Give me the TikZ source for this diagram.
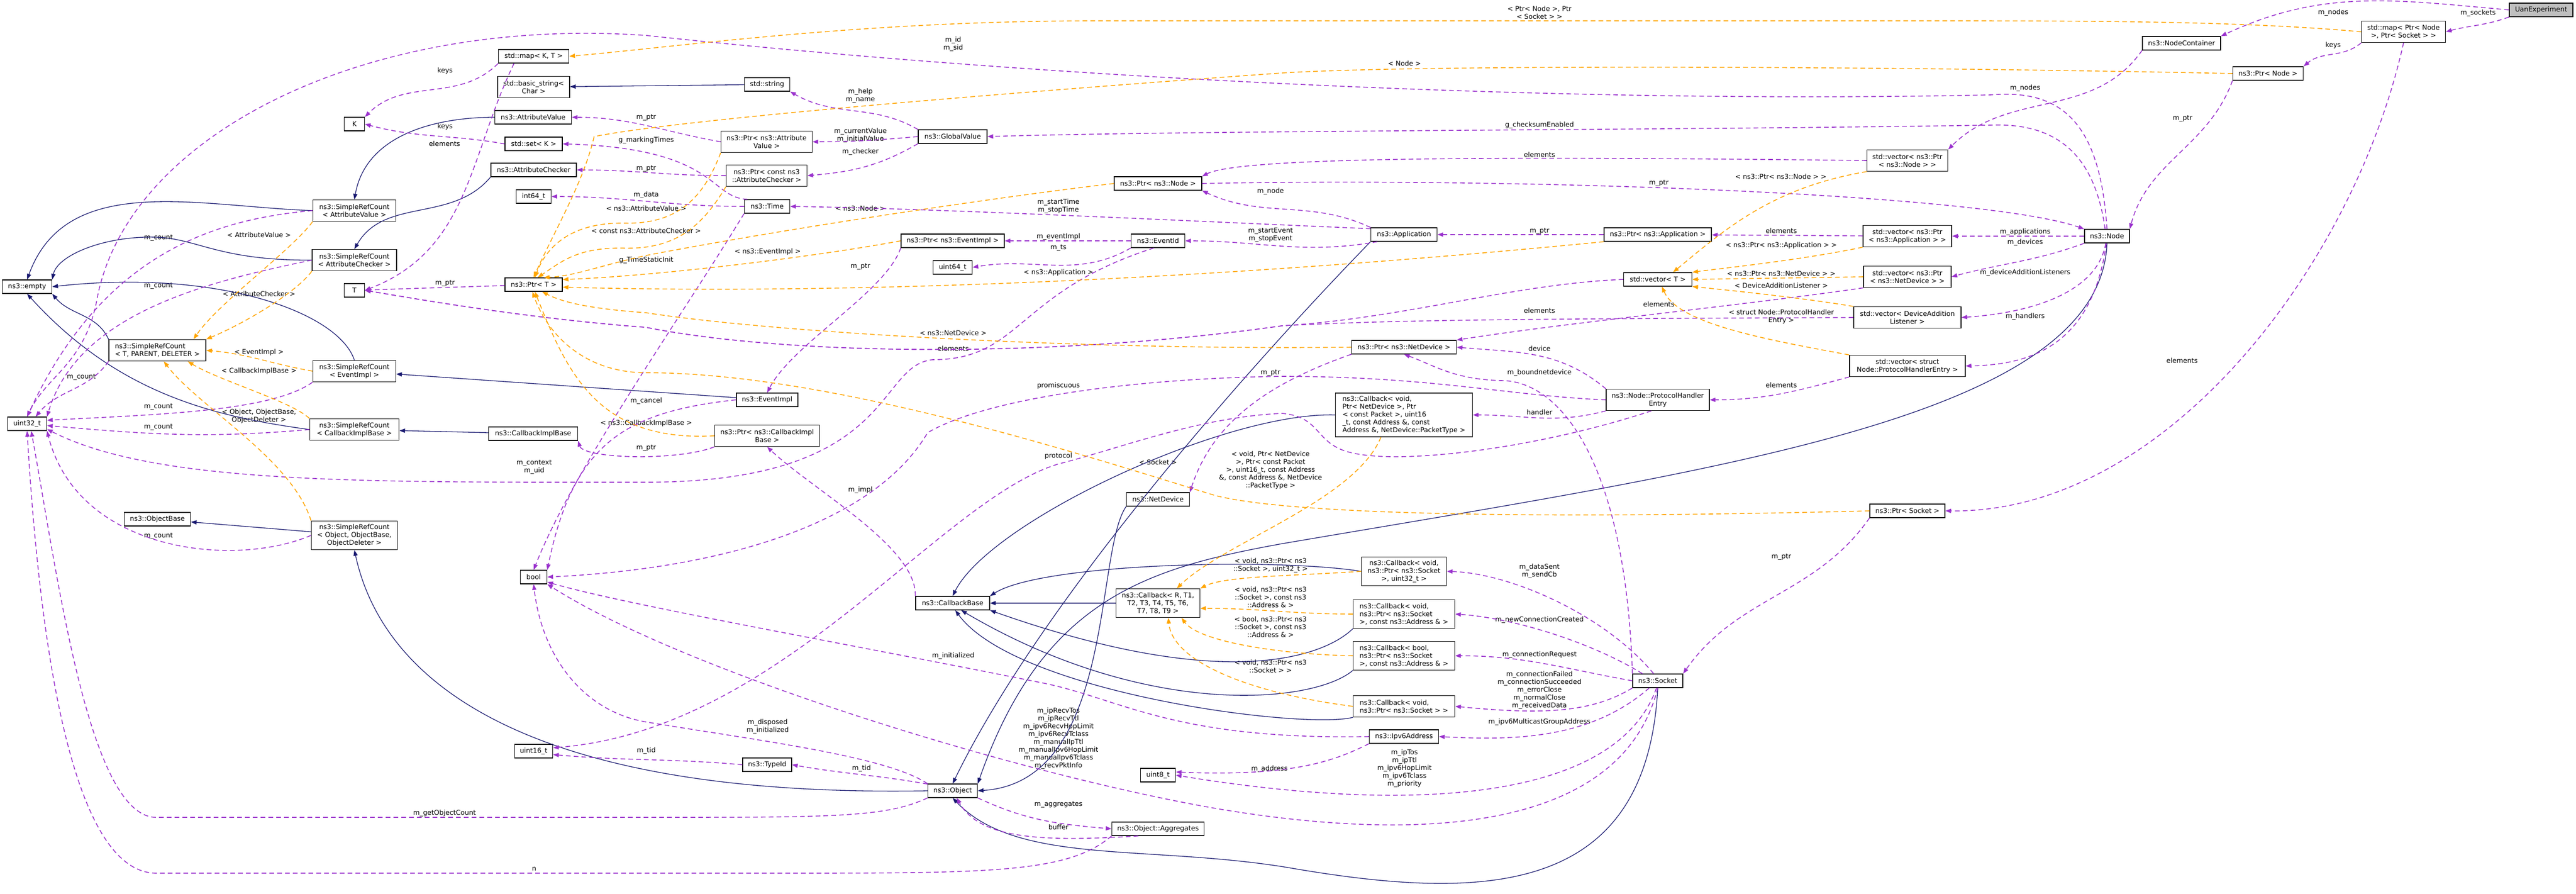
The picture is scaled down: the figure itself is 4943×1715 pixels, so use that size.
\documentclass[tikz,border=0pt]{standalone}
\usepackage{fontspec}
\setmainfont{DejaVu Sans}
\usetikzlibrary{arrows.meta}
\usetikzlibrary{positioning}
\definecolor{navy}{HTML}{191970}
\definecolor{purp}{HTML}{9A32CD}
\definecolor{orng}{HTML}{FFA500}

\begin{document}
\begin{tikzpicture}[x=1pt,y=-1pt,
  every node/.style={font=\fontsize{12.9}{15}\selectfont},
  cls/.style={draw=black,line width=1.4pt,fill=white,align=center,inner sep=1pt,minimum height=26pt},
  two/.style={minimum height=41pt},
  three/.style={minimum height=55pt},
  lbl/.style={align=center,inner sep=0pt},
  inh/.style={draw=navy,line width=1.3pt,-{Triangle[length=11pt,width=8pt]}},
  mem/.style={draw=purp,line width=1.6pt,dash pattern=on 9pt off 6pt,-{Triangle[length=11pt,width=8pt]}},
  tmp/.style={draw=orng,line width=1.6pt,dash pattern=on 9pt off 6pt,-{Triangle[length=11pt,width=8pt]}}]
\path[use as bounding box,fill=white] (0,0) rectangle (4943,1715);

\node[cls,fill=gray!50,minimum width=122pt] (uan) at (4876,19) {UanExperiment};
\node[cls,minimum width=150pt] (nc) at (4186,83) {ns3::NodeContainer};
\node[cls,two,minimum width=161pt] (mapns) at (4612,61) {std::map< Ptr< Node\\>, Ptr< Socket > >};
\node[cls,minimum width=135pt] (pnode) at (4352,141) {ns3::Ptr< Node >};
\node[cls,minimum width=86pt] (nnode) at (4043,453) {ns3::Node};
\node[cls,two,minimum width=155pt] (vpn) at (3660,308) {std::vector< ns3::Ptr\\< ns3::Node > >};
\node[cls,two,minimum width=170pt] (vpa) at (3660,453) {std::vector< ns3::Ptr\\< ns3::Application > >};
\node[cls,two,minimum width=168pt] (vpd) at (3660,531) {std::vector< ns3::Ptr\\< ns3::NetDevice > >};
\node[cls,two,minimum width=206pt] (vdal) at (3660,609) {std::vector< DeviceAddition\\Listener >};
\node[cls,two,minimum width=222pt] (vphe) at (3660,702) {std::vector< struct\\Node::ProtocolHandlerEntry >};
\node[cls,minimum width=144pt] (psock) at (3660,980) {ns3::Ptr< Socket >};
\node[cls,minimum width=127pt] (app) at (2694,450) {ns3::Application};
\node[cls,minimum width=206pt] (papp) at (3181,450) {ns3::Ptr< ns3::Application >};
\node[cls,minimum width=131pt] (vt) at (3181,536) {std::vector< T >};
\node[cls,two,minimum width=198pt] (phe) at (3181,767) {ns3::Node::ProtocolHandler\\Entry};
\node[cls,minimum width=96pt] (sock) at (3181,1306) {ns3::Socket};
\node[cls,minimum width=201pt] (pnd) at (2694,666) {ns3::Ptr< ns3::NetDevice >};
\node[cls,align=left,minimum width=263pt,minimum height=84pt] (cbnd) at (2694,796) {ns3::Callback< void,\\ Ptr< NetDevice >, Ptr\\< const Packet >, uint16\\\_t, const Address \&, const\\ Address \&, NetDevice::PacketType >};
\node[cls,three,minimum width=163pt] (cbsu) at (2694,1096) {ns3::Callback< void,\\ns3::Ptr< ns3::Socket\\>, uint32\_t >};
\node[cls,three,align=left,minimum width=195pt] (cbsa) at (2694,1178) {ns3::Callback< void,\\ ns3::Ptr< ns3::Socket\\ >, const ns3::Address \& >};
\node[cls,three,align=left,minimum width=195pt] (cbba) at (2694,1258) {ns3::Callback< bool,\\ ns3::Ptr< ns3::Socket\\ >, const ns3::Address \& >};
\node[cls,two,align=left,minimum width=195pt] (cbs) at (2694,1355) {ns3::Callback< void,\\ ns3::Ptr< ns3::Socket > >};
\node[cls,minimum width=133pt] (ipv6) at (2694,1413) {ns3::Ipv6Address};
\node[cls,minimum width=168pt] (pnn) at (2222,352) {ns3::Ptr< ns3::Node >};
\node[cls,minimum width=103pt] (eid) at (2222,462) {ns3::EventId};
\node[cls,minimum width=121pt] (netdev) at (2222,958) {ns3::NetDevice};
\node[cls,three,minimum width=161pt] (cbr) at (2222,1157) {ns3::Callback< R, T1,\\T2, T3, T4, T5, T6,\\T7, T8, T9 >};
\node[cls,minimum width=67pt] (u8) at (2222,1487) {uint8\_t};
\node[cls,minimum width=177pt] (agg) at (2222,1590) {ns3::Object::Aggregates};
\node[cls,minimum width=132pt] (gv) at (1828,262) {ns3::GlobalValue};
\node[cls,minimum width=198pt] (pei) at (1828,462) {ns3::Ptr< ns3::EventImpl >};
\node[cls,minimum width=75pt] (u64) at (1828,513) {uint64\_t};
\node[cls,minimum width=142pt] (cbb) at (1828,1157) {ns3::CallbackBase};
\node[cls,minimum width=95pt] (obj) at (1828,1517) {ns3::Object};
\node[cls,minimum width=87pt] (str) at (1472,162) {std::string};
\node[cls,two,minimum width=175pt] (pav) at (1471,272) {ns3::Ptr< ns3::Attribute\\Value >};
\node[cls,two,minimum width=155pt] (pac) at (1471,337) {ns3::Ptr< const ns3\\::AttributeChecker >};
\node[cls,minimum width=87pt] (ntime) at (1472,396) {ns3::Time};
\node[cls,minimum width=118pt] (eimpl) at (1472,767) {ns3::EventImpl};
\node[cls,two,minimum width=201pt] (pcib) at (1472,836) {ns3::Ptr< ns3::CallbackImpl\\Base >};
\node[cls,minimum width=94pt] (tid) at (1472,1467) {ns3::TypeId};
\node[cls,minimum width=135pt] (mapkt) at (1024,108) {std::map< K, T >};
\node[cls,two,minimum width=138pt] (bstr) at (1024,167) {std::basic\_string<\\Char >};
\node[cls,minimum width=147pt] (av) at (1023,225) {ns3::AttributeValue};
\node[cls,minimum width=110pt] (setk) at (1024,276) {std::set< K >};
\node[cls,minimum width=164pt] (ac) at (1024,326) {ns3::AttributeChecker};
\node[cls,minimum width=67pt] (i64) at (1024,377) {int64\_t};
\node[cls,minimum width=110pt] (ptrt) at (1024,546) {ns3::Ptr< T >};
\node[cls,minimum width=171pt] (cib) at (1023,832) {ns3::CallbackImplBase};
\node[cls,minimum width=51pt] (nbool) at (1024,1107) {bool};
\node[cls,minimum width=73pt] (u16) at (1024,1441) {uint16\_t};
\node[cls,minimum width=39pt] (nK) at (680,238) {K};
\node[cls,two,minimum width=159pt] (srcav) at (680,404) {ns3::SimpleRefCount\\< AttributeValue >};
\node[cls,two,minimum width=162pt] (srcac) at (680,499) {ns3::SimpleRefCount\\< AttributeChecker >};
\node[cls,minimum width=39pt] (nT) at (680,557) {T};
\node[cls,two,minimum width=159pt] (srcei) at (680,712) {ns3::SimpleRefCount\\< EventImpl >};
\node[cls,two,minimum width=171pt] (srccib) at (680,824) {ns3::SimpleRefCount\\< CallbackImplBase >};
\node[cls,three,minimum width=165pt] (srco) at (680,1027) {ns3::SimpleRefCount\\< Object, ObjectBase,\\ObjectDeleter >};
\node[cls,two,align=left,minimum width=186pt] (srctpd) at (302,672) {ns3::SimpleRefCount\\< T, PARENT, DELETER >};
\node[cls,minimum width=127pt] (obase) at (302,996) {ns3::ObjectBase};
\node[cls,minimum width=95pt] (nempty) at (52,550) {ns3::empty};
\node[cls,minimum width=75pt] (u32) at (52,813) {uint32\_t};

\node[lbl] (l1) at (4477,24) {m\_nodes};
\node[lbl] (l2) at (4755,25) {m\_sockets};
\node[lbl] (l3) at (4477,87) {keys};
\node[lbl] (l4) at (3886,169) {m\_nodes};
\node[lbl] (l5) at (4188,227) {m\_ptr};
\node[lbl] (l6) at (4187,692) {elements};
\node[lbl] (l7) at (3886,445) {m\_applications};
\node[lbl] (l8) at (3886,465) {m\_devices};
\node[lbl] (l9) at (3886,523) {m\_deviceAdditionListeners};
\node[lbl] (l10) at (3886,607) {m\_handlers};
\node[lbl] (l11) at (2954,24) {< Ptr< Node >, Ptr\\< Socket > >};
\node[lbl] (l12) at (2695,122) {< Node >};
\node[lbl] (l13) at (2954,240) {g\_checksumEnabled};
\node[lbl] (l14) at (2954,297) {elements};
\node[lbl] (l15) at (3417,339) {< ns3::Ptr< ns3::Node > >};
\node[lbl] (l16) at (3183,351) {m\_ptr};
\node[lbl] (l17) at (2954,443) {m\_ptr};
\node[lbl] (l18) at (3418,443) {elements};
\node[lbl] (l19) at (3418,471) {< ns3::Ptr< ns3::Application > >};
\node[lbl] (l20) at (3418,525) {< ns3::Ptr< ns3::NetDevice > >};
\node[lbl] (l21) at (3418,548) {< DeviceAdditionListener >};
\node[lbl] (l22) at (3183,584) {elements};
\node[lbl] (l23) at (2954,596) {elements};
\node[lbl] (l24) at (3418,607) {< struct Node::ProtocolHandler\\Entry >};
\node[lbl] (l25) at (2954,669) {device};
\node[lbl] (l26) at (2954,715) {m\_boundnetdevice};
\node[lbl] (l27) at (3418,739) {elements};
\node[lbl] (l28) at (2954,791) {handler};
\node[lbl] (l29) at (3418,1068) {m\_ptr};
\node[lbl] (l30) at (2954,1096) {m\_dataSent\\m\_sendCb};
\node[lbl] (l31) at (2954,1189) {m\_newConnectionCreated};
\node[lbl] (l32) at (2954,1256) {m\_connectionRequest};
\node[lbl] (l33) at (2954,1324) {m\_connectionFailed\\m\_connectionSucceeded\\m\_errorClose\\m\_normalClose\\m\_receivedData};
\node[lbl] (l34) at (2954,1385) {m\_ipv6MulticastGroupAddress};
\node[lbl] (l35) at (2695,1474) {m\_ipTos\\m\_ipTtl\\m\_ipv6HopLimit\\m\_ipv6Tclass\\m\_priority};
\node[lbl] (l36) at (2438,367) {m\_node};
\node[lbl] (l37) at (2438,451) {m\_startEvent\\m\_stopEvent};
\node[lbl] (l38) at (2438,715) {m\_ptr};
\node[lbl] (l39) at (2438,902) {< void, Ptr< NetDevice\\>, Ptr< const Packet\\>, uint16\_t, const Address\\\&, const Address \&, NetDevice\\::PacketType >};
\node[lbl] (l40) at (2438,1085) {< void, ns3::Ptr< ns3\\::Socket >, uint32\_t >};
\node[lbl] (l41) at (2438,1146) {< void, ns3::Ptr< ns3\\::Socket >, const ns3\\::Address \& >};
\node[lbl] (l42) at (2438,1203) {< bool, ns3::Ptr< ns3\\::Socket >, const ns3\\::Address \& >};
\node[lbl] (l43) at (2438,1278) {< void, ns3::Ptr< ns3\\::Socket > >};
\node[lbl] (l44) at (2436,1475) {m\_address};
\node[lbl] (l45) at (2222,887) {< Socket >};
\node[lbl] (l46) at (1829,85) {m\_id\\m\_sid};
\node[lbl] (l47) at (2031,396) {m\_startTime\\m\_stopTime};
\node[lbl] (l48) at (2031,454) {m\_eventImpl};
\node[lbl] (l49) at (2031,475) {m\_ts};
\node[lbl] (l50) at (2031,523) {< ns3::Application >};
\node[lbl] (l51) at (2031,740) {promiscuous};
\node[lbl] (l52) at (2031,875) {protocol};
\node[lbl] (l53) at (2031,1417) {m\_ipRecvTos\\m\_ipRecvTtl\\m\_ipv6RecvHopLimit\\m\_ipv6RecvTclass\\m\_manualIpTtl\\m\_manualIpv6HopLimit\\m\_manualIpv6Tclass\\m\_recvPktInfo};
\node[lbl] (l54) at (2031,1543) {m\_aggregates};
\node[lbl] (l55) at (2031,1587) {buffer};
\node[lbl] (l56) at (1829,639) {< ns3::NetDevice >};
\node[lbl] (l57) at (1829,669) {elements};
\node[lbl] (l58) at (1829,1258) {m\_initialized};
\node[lbl] (l59) at (1651,184) {m\_help\\m\_name};
\node[lbl] (l60) at (1651,260) {m\_currentValue\\m\_initialValue};
\node[lbl] (l61) at (1651,291) {m\_checker};
\node[lbl] (l62) at (1651,400) {< ns3::Node >};
\node[lbl] (l63) at (1651,511) {m\_ptr};
\node[lbl] (l64) at (1651,940) {m\_impl};
\node[lbl] (l65) at (1653,1474) {m\_tid};
\node[lbl] (l66) at (1473,483) {< ns3::EventImpl >};
\node[lbl] (l67) at (1473,1394) {m\_disposed\\m\_initialized};
\node[lbl] (l68) at (1240,225) {m\_ptr};
\node[lbl] (l69) at (1240,269) {g\_markingTimes};
\node[lbl] (l70) at (1240,323) {m\_ptr};
\node[lbl] (l71) at (1240,374) {m\_data};
\node[lbl] (l72) at (1240,400) {< ns3::AttributeValue >};
\node[lbl] (l73) at (1240,443) {< const ns3::AttributeChecker >};
\node[lbl] (l74) at (1240,499) {g\_TimeStaticInit};
\node[lbl] (l75) at (1240,769) {m\_cancel};
\node[lbl] (l76) at (1240,812) {< ns3::CallbackImplBase >};
\node[lbl] (l77) at (1240,859) {m\_ptr};
\node[lbl] (l78) at (1240,1440) {m\_tid};
\node[lbl] (l79) at (1025,896) {m\_context\\m\_uid};
\node[lbl] (l80) at (853,1560) {m\_getObjectCount};
\node[lbl] (l81) at (1025,1667) {n};
\node[lbl] (l82) at (854,136) {keys};
\node[lbl] (l83) at (854,243) {keys};
\node[lbl] (l84) at (853,276) {elements};
\node[lbl] (l85) at (854,543) {m\_ptr};
\node[lbl] (l86) at (304,456) {m\_count};
\node[lbl] (l87) at (497,451) {< AttributeValue >};
\node[lbl] (l88) at (304,548) {m\_count};
\node[lbl] (l89) at (497,564) {< AttributeChecker >};
\node[lbl] (l90) at (497,676) {< EventImpl >};
\node[lbl] (l91) at (156,723) {m\_count};
\node[lbl] (l92) at (497,712) {< CallbackImplBase >};
\node[lbl] (l93) at (304,780) {m\_count};
\node[lbl] (l94) at (497,798) {< Object, ObjectBase,\\ObjectDeleter >};
\node[lbl] (l95) at (304,819) {m\_count};
\node[lbl] (l96) at (304,1028) {m\_count};

\draw[inh] (str) -- (bstr);
\draw[inh] (av.west) to[out=180,in=80] (srcav.north);
\draw[inh] (ac.south west) to[out=230,in=60] (srcac.north);
\draw[inh] (srcav.west) to[out=178,in=70] (nempty.north);
\draw[inh] (srcac.west) .. controls (420,500) and (380,458) .. (300,455) .. controls (200,452) and (110,490) .. (nempty.north east);
\draw[inh] (srcei.north) .. controls (650,600) and (420,515) .. (nempty.east);
\draw[inh] (srctpd.north west) to[out=115,in=-50] (nempty.south east);
\draw[inh] (srccib.west) .. controls (420,800) and (230,760) .. (nempty.south);
\draw[inh] (eimpl) -- (srcei);
\draw[inh] (cib) -- (srccib);
\draw[inh] (srco) -- (obase);
\draw[inh] (obj.west) .. controls (1050,1530) and (740,1330) .. (srco.south);
\draw[inh] (app.south west) .. controls (2400,700) and (2000,1150) .. (obj.north);
\draw[inh] (nnode.south) .. controls (4030,800) and (3300,900) .. (2460,1043) .. controls (2200,1090) and (2000,1150) .. (obj.north east);
\draw[inh] (netdev.south west) .. controls (2100,1060) and (2140,1500) .. (obj.east);
\draw[inh] (sock.south) .. controls (3160,1720) and (2850,1730) .. (2470,1664) .. controls (2200,1620) and (1950,1660) .. (obj.south);
\draw[inh] (cbr) -- (cbb);
\draw[inh] (cbnd.west) .. controls (2350,790) and (1900,1000) .. (cbb.north);
\draw[inh] (cbsu.west) .. controls (2450,1070) and (2000,1080) .. (cbb.north east);
\draw[inh] (cbsa.south west) .. controls (2540,1260) and (2350,1330) .. (cbb.south east);
\draw[inh] (cbba.south west) .. controls (2520,1350) and (2200,1380) .. (cbb.-40);
\draw[inh] (cbs.south west) .. controls (2500,1400) and (1950,1330) .. (cbb.-70);

\draw[mem] (uan.west) to[out=175,in=25] (nc.north east);
\draw[mem] (uan.south west) to[out=200,in=15] (mapns.east);
\draw[mem] (nc.south west) to[out=235,in=45] (vpn.north east);
\draw[mem] (mapns.south west) to[out=220,in=40] (pnode.north east);
\draw[mem] (mapns.south) .. controls (4520,500) and (4160,985) .. (psock.east);
\draw[mem] (pnode.south west) to[out=250,in=75] (nnode.north east);
\draw[mem] (nnode.west) -- (vpa.east);
\draw[mem] (nnode.south west) to[out=200,in=15] (vpd.east);
\draw[mem] (nnode.-100) .. controls (4025,560) and (3900,600) .. (vdal.east);
\draw[mem] (nnode.-95) .. controls (4015,660) and (3900,700) .. (vphe.east);
\draw[mem] (nnode.north) .. controls (4030,240) and (3960,170) .. (3820,182) .. controls (3000,200) and (2000,150) .. (1240,68) .. controls (700,30) and (240,260) .. (185,580) .. controls (160,700) and (90,720) .. (u32.north);
\draw[mem] (nnode.105) .. controls (4020,300) and (3950,235) .. (3820,240) .. controls (3200,250) and (2300,250) .. (gv.east);
\draw[mem] (pnn.east) .. controls (2900,340) and (3800,370) .. (nnode.north west);
\draw[mem] (vpn.west) .. controls (2900,300) and (2380,300) .. (pnn.north east);
\draw[mem] (vpa) -- (papp);
\draw[mem] (papp) -- (app);
\draw[mem] (app.north west) to[out=155,in=-25] (pnn.south east);
\draw[mem] (app.170) .. controls (2300,425) and (1800,400) .. (ntime.east);
\draw[mem] (app.195) to[out=190,in=0] (eid.east);
\draw[mem] (eid) -- (pei);
\draw[mem] (eid.south west) to[out=210,in=10] (u64.east);
\draw[mem] (eid.-120) .. controls (1950,560) and (1960,690) .. (1790,690) .. controls (1680,700) and (1720,925) .. (1240,925) .. controls (700,925) and (300,930) .. (u32.-15);
\draw[mem] (pei.south west) .. controls (1700,560) and (1520,660) .. (eimpl.north);
\draw[mem] (gv.north west) to[out=150,in=-30] (str.south east);
\draw[mem] (gv.west) to[out=185,in=0] (pav.east);
\draw[mem] (gv.south west) to[out=210,in=5] (pac.east);
\draw[mem] (pav.west) to[out=170,in=0] (av.east);
\draw[mem] (pac.west) to[out=180,in=0] (ac.east);
\draw[mem] (ntime.160) .. controls (1360,380) and (1380,285) .. (setk.east);
\draw[mem] (ntime.west) to[out=180,in=0] (i64.east);
\draw[mem] (ntime.south west) .. controls (1300,620) and (1100,900) .. (nbool.north);
\draw[mem] (eimpl.west) .. controls (1200,790) and (1100,850) .. (nbool.north east);
\draw[mem] (pcib.south west) .. controls (1300,885) and (1120,880) .. (cib.south east);
\draw[mem] (cbb.north west) .. controls (1760,1050) and (1560,940) .. (pcib.south);
\draw[mem] (phe.north west) to[out=140,in=-5] (pnd.east);
\draw[mem] (phe.south west) to[out=195,in=0] (cbnd.east);
\draw[mem] (phe.west) .. controls (2900,760) and (2750,722) .. (2460,722) .. controls (2200,725) and (1900,760) .. (1780,830) .. controls (1680,1000) and (1400,1090) .. (nbool.east);
\draw[mem] (phe.-120) .. controls (2950,860) and (2700,890) .. (2600,870) .. controls (2520,855) and (2540,800) .. (2460,793) .. controls (2300,800) and (2150,860) .. (2031,890) .. controls (1800,960) and (1500,1400) .. (u16.10);
\draw[mem] (pnd.south west) .. controls (2450,730) and (2330,800) .. (netdev.north east);
\draw[mem] (vpd.south west) .. controls (3350,585) and (3000,620) .. (pnd.north east);
\draw[mem] (vdal.west) .. controls (3000,612) and (2700,612) .. (2460,625) .. controls (2000,690) and (1500,680) .. (1240,628) .. controls (1000,610) and (780,570) .. (nT.east);
\draw[mem] (vt.west) .. controls (2900,545) and (2700,610) .. (2460,625) .. controls (2000,690) and (1500,680) .. (1240,628) .. controls (1000,610) and (780,570) .. (nT.east);
\draw[mem] (vphe.south west) to[out=195,in=0] (phe.east);
\draw[mem] (psock.south west) to[out=235,in=55] (sock.north east);
\draw[mem] (sock.north west) .. controls (3120,900) and (3000,730) .. (2880,730) .. controls (2790,728) and (2750,700) .. (pnd.south);
\draw[mem] (sock.120) .. controls (3080,1180) and (2900,1100) .. (cbsu.east);
\draw[mem] (sock.155) .. controls (3050,1230) and (2900,1185) .. (cbsa.east);
\draw[mem] (sock.west) to[out=170,in=0] (cbba.east);
\draw[mem] (sock.south west) .. controls (3050,1370) and (2950,1370) .. (cbs.east);
\draw[mem] (sock.-140) .. controls (3050,1420) and (2900,1420) .. (ipv6.east);
\draw[mem] (sock.-100) .. controls (3100,1540) and (2700,1560) .. (u8.east);
\draw[mem] (sock.south) .. controls (3100,1640) and (2600,1600) .. (2300,1545) .. controls (1900,1470) and (1300,1280) .. (nbool.south east);
\draw[mem] (ipv6.west) .. controls (2250,1420) and (2150,1340) .. (2000,1310) .. controls (1600,1230) and (1200,1160) .. (nbool.-20);
\draw[mem] (ipv6.south west) .. controls (2560,1460) and (2480,1490) .. (u8.10);
\draw[mem] (obj.north west) .. controls (1700,1450) and (1450,1420) .. (1240,1385) .. controls (1120,1365) and (1040,1260) .. (nbool.south);
\draw[mem] (obj.165) to[out=170,in=-10] (tid.east);
\draw[mem] (tid.west) to[out=175,in=-5] (u16.-10);
\draw[mem] (obj.south east) to[out=-25,in=175] (agg.west);
\draw[mem] (agg.-160) .. controls (2000,1615) and (1880,1610) .. (obj.-60);
\draw[mem] (agg.south west) .. controls (2050,1675) and (1900,1675) .. (1500,1675) -- (300,1675) .. controls (150,1675) and (80,1300) .. (u32.south);
\draw[mem] (obj.south west) .. controls (1700,1568) and (1600,1568) .. (1240,1568) -- (300,1568) .. controls (170,1568) and (110,1100) .. (u32.-60);
\draw[mem] (srcav.west) .. controls (420,420) and (200,480) .. (u32.north);
\draw[mem] (srcac.west) .. controls (400,540) and (150,600) .. (u32.north east);
\draw[mem] (srctpd.south west) to[out=235,in=50] (u32.40);
\draw[mem] (srcei.south west) .. controls (520,790) and (300,795) .. (u32.10);
\draw[mem] (srccib.west) to[out=185,in=-5] (u32.-5);
\draw[mem] (srco.west) .. controls (450,1090) and (150,1060) .. (u32.south east);
\draw[mem] (mapkt.south west) to[out=225,in=45] (nK.north east);
\draw[mem] (mapkt.200) .. controls (900,300) and (900,480) .. (nT.east);
\draw[mem] (setk.west) to[out=170,in=-15] (nK.east);
\draw[mem] (ptrt) -- (nT);

\draw[tmp] (mapns.west) .. controls (4300,40) and (4000,40) .. (3700,40) -- (2100,40) .. controls (1650,40) and (1300,90) .. (mapkt.east);
\draw[tmp] (pnode.west) .. controls (3500,125) and (2700,125) .. (2460,140) .. controls (1900,180) and (1300,230) .. (1140,262) .. controls (1120,350) and (1060,450) .. (ptrt.north);
\draw[tmp] (pav.south west) .. controls (1350,380) and (1300,430) .. (1200,428) .. controls (1100,426) and (1050,470) .. (ptrt.80);
\draw[tmp] (pac.south west) .. controls (1350,430) and (1300,478) .. (1200,476) .. controls (1110,474) and (1080,500) .. (ptrt.60);
\draw[tmp] (pnn.west) .. controls (1900,380) and (1500,440) .. (1240,490) .. controls (1150,510) and (1100,530) .. (ptrt.35);
\draw[tmp] (pei.west) .. controls (1550,495) and (1250,530) .. (ptrt.10);
\draw[tmp] (papp.south west) .. controls (2300,540) and (1600,565) .. (ptrt.-5);
\draw[tmp] (pnd.west) .. controls (2100,672) and (1500,640) .. (1240,600) .. controls (1130,592) and (1080,580) .. (ptrt.-40);
\draw[tmp] (pcib.west) .. controls (1150,848) and (1090,720) .. (ptrt.-80);
\draw[tmp] (psock.west) .. controls (3000,995) and (2480,990) .. (2330,950) .. controls (2100,880) and (1600,715) .. (1240,715) .. controls (1120,715) and (1050,640) .. (ptrt.-100);
\draw[tmp] (srcav.south west) .. controls (560,480) and (420,580) .. (srctpd.17);
\draw[tmp] (srcac.south west) .. controls (570,560) and (470,620) .. (srctpd.north east);
\draw[tmp] (srcei.west) to[out=170,in=-5] (srctpd.east);
\draw[tmp] (srccib.north west) .. controls (560,770) and (420,730) .. (srctpd.-20);
\draw[tmp] (srco.north west) .. controls (560,880) and (380,780) .. (srctpd.-60);
\draw[tmp] (vpn.south west) .. controls (3400,360) and (3310,440) .. (vt.25);
\draw[tmp] (vpa.south west) .. controls (3450,500) and (3300,515) .. (vt.north east);
\draw[tmp] (vpd.west) -- (vt.east);
\draw[tmp] (vdal.north west) .. controls (3450,570) and (3300,555) .. (vt.south east);
\draw[tmp] (vphe.north west) .. controls (3380,650) and (3220,620) .. (vt.-60);
\draw[tmp] (cbnd.-136) .. controls (2600,960) and (2350,1040) .. (cbr.38);
\draw[tmp] (cbsu.west) .. controls (2480,1105) and (2350,1105) .. (cbr.north east);
\draw[tmp] (cbsa.west) to[out=180,in=0] (cbr.-7);
\draw[tmp] (cbba.west) .. controls (2450,1255) and (2300,1230) .. (cbr.-32);
\draw[tmp] (cbs.west) .. controls (2400,1330) and (2250,1270) .. (cbr.-55);
\end{tikzpicture}
\end{document}
